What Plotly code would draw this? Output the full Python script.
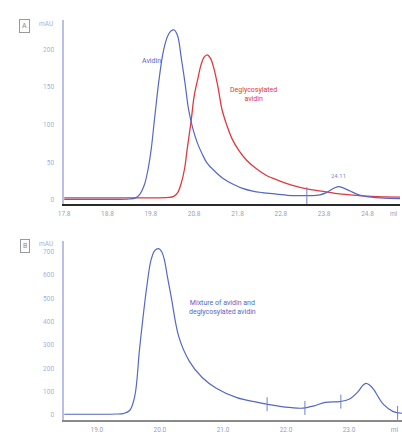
import plotly.graph_objects as go

# ---------- Panel A data (volume in ml, absorbance in mAU) ----------
a_avidin_x = [17.8, 18.5, 19.0, 19.3, 19.45, 19.55, 19.65, 19.74, 19.81, 19.89, 19.99, 20.09, 20.19, 20.27, 20.34,
              20.42, 20.5, 20.59, 20.67, 20.77, 20.88, 20.98, 21.1, 21.3, 21.46, 21.7, 21.9, 22.15, 22.37,
              22.7, 23.05, 23.3, 23.5, 23.7, 23.85, 24.0, 24.12, 24.25, 24.4, 24.6, 24.75, 25.1, 25.55]
a_avidin_y = [1, 1, 1, 1.5, 3, 8, 20, 42, 68, 110, 160, 198, 218, 225, 226,
              218, 190, 155, 121, 95, 75, 62, 49, 37, 29, 21, 16, 12, 10,
              8, 6, 6, 6, 7, 10, 15, 18, 16, 12, 7, 5, 3, 2]

a_degly_x = [17.8, 18.5, 19.0, 19.5, 19.9, 20.2, 20.33, 20.42, 20.5, 20.58, 20.64, 20.73, 20.8, 20.88,
             20.96, 21.03, 21.1, 21.18, 21.26, 21.35, 21.44, 21.55, 21.67, 21.83, 22.01, 22.23, 22.46,
             22.75, 23.05, 23.4, 23.73, 24.05, 24.4, 24.9, 25.55]
a_degly_y = [3, 3, 3, 3, 3, 3.5, 5, 10, 22, 42, 68, 105, 138, 160,
             180, 190, 193, 188, 174, 150, 121, 100, 82, 66, 53, 42, 33,
             26, 20, 15, 12, 9, 7, 5, 4]

a_mark_x = [23.4]
a_mark_y = [6]
a_peak_label = "24.11"
a_peak_x = 24.12
a_peak_y = 25

a_xticks = [17.8, 18.8, 19.8, 20.8, 21.8, 22.8, 23.8, 24.8, 25.4]
a_xticktext = ["17.8", "18.8", "19.8", "20.8", "21.8", "22.8", "23.8", "24.8", "ml"]
a_yticks = [0, 50, 100, 150, 200]

# ---------- Panel B data ----------
b_mix_x = [18.48, 18.8, 19.1, 19.3, 19.42, 19.52, 19.6, 19.68, 19.79, 19.86, 19.92, 19.98, 20.03, 20.07,
           20.12, 20.18, 20.3, 20.47, 20.67, 20.9, 21.22, 21.55, 21.86, 22.09, 22.27, 22.45, 22.62,
           22.85, 23.0, 23.14, 23.22, 23.27, 23.32, 23.39, 23.47, 23.55, 23.7, 23.85]
b_mix_y = [4, 4, 4, 5, 7, 20, 80, 292, 547, 665, 705, 712, 698, 665,
           590, 504, 335, 229, 161, 114, 75, 55, 40, 32, 30, 40, 55,
           58, 68, 100, 128, 136, 130, 110, 75, 45, 15, 8]

b_mark_x = [21.7, 22.3, 22.87, 23.77]
b_mark_y = [47, 31, 58, 10]

b_xticks = [19.0, 20.0, 21.0, 22.0, 23.0, 23.72]
b_xticktext = ["19.0", "20.0", "21.0", "22.0", "23.0", "ml"]
b_yticks = [0, 100, 200, 300, 400, 500, 600, 700]

BLUE = "#5468C4"
RED = "#E0393E"
TICKC = "#A7B0D8"
FONT = "Roboto"

fig = go.Figure()

fig.add_trace(go.Scatter(x=a_degly_x, y=a_degly_y, mode="lines", line=dict(color=RED, width=1.3, shape="spline"),
                         xaxis="x", yaxis="y", hoverinfo="skip"))
fig.add_trace(go.Scatter(x=a_avidin_x, y=a_avidin_y, mode="lines", line=dict(color=BLUE, width=1.2, shape="spline"),
                         xaxis="x", yaxis="y", hoverinfo="skip"))
fig.add_trace(go.Scatter(x=a_mark_x, y=a_mark_y, mode="markers",
                         marker=dict(symbol="line-ns", size=12, line=dict(color="#7080C8", width=1)),
                         xaxis="x", yaxis="y", hoverinfo="skip"))
fig.add_trace(go.Scatter(x=b_mix_x, y=b_mix_y, mode="lines", line=dict(color=BLUE, width=1.2, shape="spline"),
                         xaxis="x2", yaxis="y2", hoverinfo="skip"))
fig.add_trace(go.Scatter(x=b_mark_x, y=b_mark_y, mode="markers",
                         marker=dict(symbol="line-ns", size=10, line=dict(color="#7080C8", width=1)),
                         xaxis="x2", yaxis="y2", hoverinfo="skip"))

W, H = 402, 434
def px(v): return v / W
def py(v): return 1 - v / H

axis_common = dict(showgrid=False, zeroline=False, ticks="", fixedrange=True)

fig.update_layout(
    width=W, height=H, margin=dict(l=0, r=0, t=0, b=0),
    paper_bgcolor="white", plot_bgcolor="white", showlegend=False,
    font=dict(family=FONT, size=7, color=TICKC),
    xaxis=dict(domain=[px(59), px(400)], range=[17.8, 25.55], anchor="y",
               tickvals=a_xticks, ticktext=a_xticktext, showline=True, linecolor="#2a2a2a", linewidth=2,
               tickfont=dict(size=6.5, color="#9aa0b8"), ticklabelstandoff=2, **axis_common),
    yaxis=dict(domain=[py(206), py(20)], range=[-5.3, 239.5], anchor="x",
               tickvals=a_yticks, showline=True, linecolor="#B8C0EA", linewidth=1.5,
               tickfont=dict(size=6.5, color=TICKC), ticklabelstandoff=7, **axis_common),
    xaxis2=dict(domain=[px(59), px(402)], range=[18.48, 23.84], anchor="y2",
                tickvals=b_xticks, ticktext=b_xticktext, showline=True, linecolor="#8a8a8a", linewidth=2,
                tickfont=dict(size=6.5, color="#9aa0b8"), ticklabelstandoff=2, **axis_common),
    yaxis2=dict(domain=[py(424), py(243)], range=[-21, 746], anchor="x2",
                tickvals=b_yticks, showline=True, linecolor="#B8C0EA", linewidth=1.5,
                tickfont=dict(size=6.5, color=TICKC), ticklabelstandoff=7, **axis_common),
)

ann = []
# panel letters in boxes
for letter, yc in [("A", 26), ("B", 248)]:
    ann.append(dict(x=px(19), y=py(yc), xref="paper", yref="paper", text=letter, showarrow=False,
                    font=dict(size=7, color="#8a8a8a"), bordercolor="#9a9a9a", borderwidth=1, borderpad=2,
                    xanchor="center", yanchor="middle"))
ann.append(dict(x=px(50), y=py(24), xref="paper", yref="paper", text="mAU", showarrow=False,
                font=dict(size=6.5, color=TICKC), xanchor="right", yanchor="middle"))
ann.append(dict(x=px(50), y=py(246), xref="paper", yref="paper", text="mAU", showarrow=False,
                font=dict(size=6.5, color=TICKC), xanchor="right", yanchor="middle"))
ann.append(dict(x=px(148), y=py(62), xref="paper", yref="paper", text="Avidin", showarrow=False,
                font=dict(size=7, color=BLUE), xanchor="center", yanchor="middle"))
ann.append(dict(x=px(251), y=py(95), xref="paper", yref="paper", text="Deglycosylated<br>avidin", showarrow=False,
                font=dict(size=7, color=RED), xanchor="center", yanchor="middle"))
ann.append(dict(x=a_peak_x, y=a_peak_y, xref="x", yref="y", text=a_peak_label, showarrow=False,
                font=dict(size=6, color="#8090d0"), xanchor="center", yanchor="bottom"))
ann.append(dict(x=px(220), y=py(310), xref="paper", yref="paper",
                text="Mixture of avidin and<br>deglycosylated avidin", showarrow=False,
                font=dict(size=7, color=BLUE), xanchor="center", yanchor="middle"))
fig.update_layout(annotations=ann)

fig.write_html("out.html", config={"displayModeBar": False},
               post_script="document.body.style.margin='0';document.body.style.padding='0';document.body.style.overflow='hidden';")
